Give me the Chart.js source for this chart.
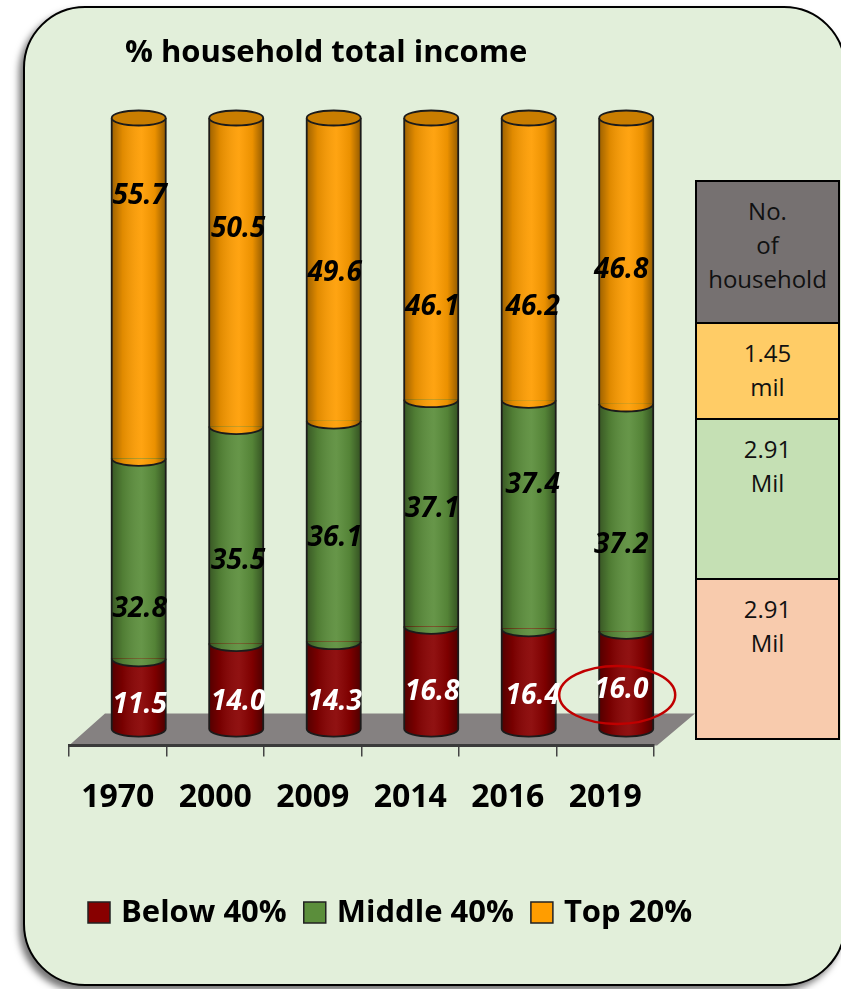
<!DOCTYPE html>
<html>
<head>
<meta charset="utf-8">
<script src="https://cdn.jsdelivr.net/npm/chart.js@4.4.1/dist/chart.umd.min.js"></script>
<style>
  html, body { margin: 0; padding: 0; background: #fff; overflow: hidden; }
  #wrap { position: relative; width: 841px; height: 989px; }
  #panel {
    position: absolute; left: 23px; top: 6px; width: 823px; height: 980px;
    box-sizing: border-box; background: #E2EFDA; border: 2.5px solid #000;
    border-radius: 62px; box-shadow: -4px 5px 7px rgba(0,0,0,0.55);
  }
  #chart { position: absolute; left: 0; top: 0; }
  #households {
    position: absolute; left: 695px; top: 180px; width: 145px; height: 560px;
    box-sizing: border-box; border: 2px solid #000;
    font-family: 'Open Sans', sans-serif; font-size: 24px; line-height: 34px;
    color: #111; text-align: center;
  }
  #households div { box-sizing: border-box; border-bottom: 2px solid #000; padding-top: 12px; }
  #households div:last-child { border-bottom: none; }
</style>
</head>
<body>
<div id="wrap">
  <div id="panel"></div>
  <canvas id="chart" width="841" height="989"></canvas>
  <div id="households"></div>
</div>
<script>
// values
const years = ['1970', '2000', '2009', '2014', '2016', '2019'];
const below40 = [11.5, 14.0, 14.3, 16.8, 16.4, 16.0];
const middle40 = [32.8, 35.5, 36.1, 37.1, 37.4, 37.2];
const top20 = [55.7, 50.5, 49.6, 46.1, 46.2, 46.8];
const seriesNames = ['Below 40%', 'Middle 40%', 'Top 20%'];
const chartTitle = '% household total income';

// side table
const householdHeader = ['No.', 'of', 'household'];
const householdCounts = [['1.45', 'mil'], ['2.91', 'Mil'], ['2.91', 'Mil']];

const labelSpot = [
  [0.34, 0.32, 0.31, 0.36, 0.33, 0.40],
  [0.25, 0.38, 0.47, 0.52, 0.63, 0.38],
  [0.77, 0.64, 0.49, 0.33, 0.33, 0.47],
];
const labelNudge = [1, 2, 1, 1, 4, -5];
// the 3d look pushes cylinders toward the back of each category slot
const barShift = 0.215;

const fills = ['#880000', '#5B8E3B', '#FF9D00'];
const capFill = '#C97D00';
const edge = '#1b1b1b';

// build the side table
const tableRows = [
  { bg: '#767171', h: 142, lines: householdHeader },
  { bg: '#FFCC66', h: 96, lines: householdCounts[0] },
  { bg: '#C5E0B4', h: 160, lines: householdCounts[1] },
  { bg: '#F8CBAD', h: 158, lines: householdCounts[2] },
];
const tbl = document.getElementById('households');
tableRows.forEach(r => {
  const cell = document.createElement('div');
  cell.style.background = r.bg;
  cell.style.height = r.h + 'px';
  cell.innerHTML = r.lines.join('<br>');
  tbl.appendChild(cell);
});

const asPoints = arr => arr.map((v, i) => ({ x: i, y: v }));

const cylinders = {
  id: 'cylinders',
  beforeDraw(chart) {
    // grey floor under the bars
    const { ctx, chartArea } = chart;
    const b = chartArea.bottom;
    ctx.save();
    ctx.beginPath();
    ctx.moveTo(chartArea.left, b);
    ctx.lineTo(chartArea.left + 36, b - 32);
    ctx.lineTo(chartArea.right + 41, b - 32);
    ctx.lineTo(chartArea.right + 3, b);
    ctx.closePath();
    ctx.fillStyle = '#858181';
    ctx.fill();
    ctx.restore();
  },
  afterDatasetsDraw(chart) {
    const ctx = chart.ctx;
    const metas = [0, 1, 2].map(d => chart.getDatasetMeta(d));
    years.forEach((_, i) => {
      const els = metas.map(m => m.data[i]);
      const x = els[0].x, w = els[0].width;
      const x0 = x - w / 2, x1 = x + w / 2, rx = w / 2, ry = 7.5;
      const baseY = els[0].base, topY = els[2].y;
      ctx.save();
      // rounded bottoms of every segment
      els.forEach((el, d) => {
        ctx.beginPath();
        ctx.ellipse(x, el.base, rx, ry, 0, 0, Math.PI);
        ctx.fillStyle = fills[d];
        ctx.fill();
      });
      // cylinder shading
      const g = ctx.createLinearGradient(x0, 0, x1, 0);
      g.addColorStop(0, 'rgba(0,0,0,0.38)');
      g.addColorStop(0.2, 'rgba(0,0,0,0.12)');
      g.addColorStop(0.55, 'rgba(255,255,255,0.07)');
      g.addColorStop(0.8, 'rgba(0,0,0,0.08)');
      g.addColorStop(1, 'rgba(0,0,0,0.42)');
      ctx.beginPath();
      ctx.moveTo(x0, topY);
      ctx.lineTo(x0, baseY);
      ctx.ellipse(x, baseY, rx, ry, 0, Math.PI, 0, true);
      ctx.lineTo(x1, topY);
      ctx.closePath();
      ctx.fillStyle = g;
      ctx.fill();
      // outlines
      ctx.strokeStyle = edge;
      ctx.lineWidth = 1.8;
      ctx.beginPath();
      ctx.moveTo(x0, topY); ctx.lineTo(x0, baseY);
      ctx.moveTo(x1, topY); ctx.lineTo(x1, baseY);
      ctx.stroke();
      els.forEach(el => {
        ctx.beginPath();
        ctx.ellipse(x, el.base, rx, ry, 0, 0, Math.PI);
        ctx.stroke();
      });
      // top cap
      ctx.beginPath();
      ctx.ellipse(x, topY, rx, ry, 0, 0, Math.PI * 2);
      ctx.fillStyle = capFill;
      ctx.fill();
      ctx.stroke();
      ctx.restore();
    });

    // value labels
    ctx.save();
    ctx.font = 'italic bold 28px "Open Sans"';
    ctx.textAlign = 'center';
    ctx.textBaseline = 'middle';
    metas.forEach((m, d) => {
      m.data.forEach((el, i) => {
        const v = chart.data.datasets[d].data[i].y;
        const y = el.base - labelSpot[d][i] * (el.base - el.y);
        ctx.fillStyle = d === 0 ? '#fff' : '#000';
        ctx.fillText(v.toFixed(1), el.x + labelNudge[i], y);
      });
    });
    // red ring round the last low-income value
    const n = years.length - 1;
    const last = metas[0].data[n];
    const ly = last.base - labelSpot[0][n] * (last.base - last.y);
    ctx.beginPath();
    ctx.ellipse(last.x + labelNudge[n] - 4, ly + 5, 58, 29, 0, 0, Math.PI * 2);
    ctx.strokeStyle = '#C00000';
    ctx.lineWidth = 2.5;
    ctx.stroke();
    ctx.restore();
  },
  afterDraw(chart) {
    const ctx = chart.ctx;
    ctx.save();
    // title
    ctx.font = 'bold 31px "Open Sans"';
    ctx.fillStyle = '#000';
    ctx.textBaseline = 'alphabetic';
    ctx.textAlign = 'left';
    ctx.fillText(chartTitle, 125, 62);
    // legend
    ctx.font = 'bold 31px "Open Sans"';
    ctx.textBaseline = 'middle';
    let lx = 88;
    const ly = 912;
    chart.data.datasets.forEach(ds => {
      ctx.fillStyle = ds.backgroundColor;
      ctx.fillRect(lx, ly - 10, 22, 21);
      ctx.strokeStyle = '#222';
      ctx.lineWidth = 1.5;
      ctx.strokeRect(lx, ly - 10, 22, 21);
      lx += 33;
      ctx.fillStyle = '#000';
      ctx.fillText(ds.label, lx, ly + 1);
      lx += ctx.measureText(ds.label).width + 17;
    });
    ctx.restore();
  }
};

new Chart(document.getElementById('chart'), {
  type: 'bar',
  data: {
    labels: years,
    datasets: [
      { label: seriesNames[0], data: asPoints(below40), backgroundColor: fills[0], xAxisID: 'xb' },
      { label: seriesNames[1], data: asPoints(middle40), backgroundColor: fills[1], xAxisID: 'xb' },
      { label: seriesNames[2], data: asPoints(top20), backgroundColor: fills[2], xAxisID: 'xb' },
    ]
  },
  options: {
    responsive: false,
    animation: false,
    layout: { padding: { left: 69, right: 187, top: 118, bottom: 150 } },
    datasets: { bar: { barThickness: 54, borderWidth: 0 } },
    plugins: { legend: { display: false }, tooltip: { enabled: false } },
    scales: {
      x: {
        type: 'category',
        offset: true,
        grid: { drawOnChartArea: false, drawTicks: true, tickLength: 11, color: '#444', lineWidth: 1.5, offset: true },
        border: { display: true, color: '#3a3a3a', width: 3 },
        ticks: { color: '#000', font: { family: 'Open Sans', weight: 'bold', size: 32 }, padding: 22 }
      },
      xb: {
        type: 'linear',
        display: false,
        stacked: true,
        offset: false,
        min: -0.5 - barShift,
        max: years.length - 0.5 - barShift
      },
      y: { stacked: true, display: false, min: -2.7, max: 100 }
    }
  },
  plugins: [cylinders]
});
</script>
</body>
</html>
